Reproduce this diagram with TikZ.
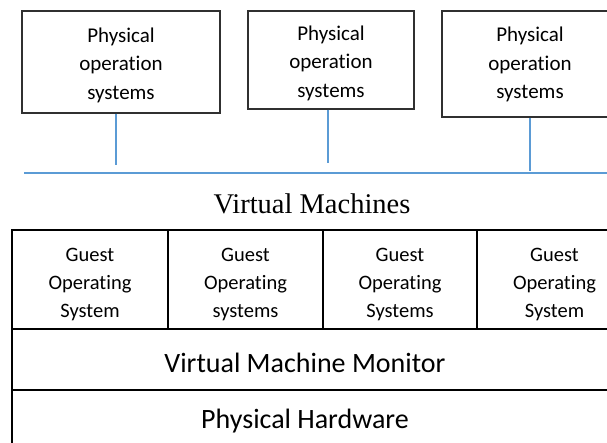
\documentclass[tikz,border=0pt]{standalone}
\usepackage{fontspec}
\newfontfamily\calfont[Ligatures=NoCommon]{Carlito}
\newfontfamily\timesfont{Liberation Serif}
\definecolor{lineblue}{HTML}{5B9BD5}
\definecolor{boxgray}{HTML}{303030}
\begin{document}
\begin{tikzpicture}[x=1pt,y=-1pt,
  topbox/.style={draw=boxgray, line width=1.2pt, inner sep=0pt},
  toptext/.style={align=center, inner sep=0pt, font=\calfont\fontsize{21}{28.5}\selectfont},
  guestbox/.style={draw=black, line width=2.2pt, inner sep=0pt, minimum height=99pt},
  guesttext/.style={align=center, inner sep=0pt, font=\calfont\fontsize{20.5}{28}\selectfont},
  layerbox/.style={draw=black, line width=2.2pt, inner sep=0pt, minimum width=620pt},
  layertext/.style={inner sep=0pt, font=\calfont\fontsize{28}{34}\selectfont},
  link/.style={draw=lineblue, line width=1.2pt}]
\useasboundingbox (0,0) rectangle (607,443);
\clip (0,0) rectangle (607,443);
% top boxes
\node[topbox, minimum width=198pt, minimum height=102pt] (p1) at (121,62) {};
\node[topbox, minimum width=166pt, minimum height=98pt] (p2) at (331,60) {};
\node[topbox, minimum width=176pt, minimum height=106pt] (p3) at (530,64) {};
\node[toptext] (p1t) at (121,65) {Physical\\operation\\systems};
\node[toptext] (p2t) at (331,63) {Physical\\operation\\systems};
\node[toptext] (p3t) at (530,64.5) {Physical\\operation\\systems};
% links
\coordinate (e1) at (116,165);
\coordinate (e2) at (328,163);
\coordinate (e3) at (530,171);
\coordinate (busL) at (24,173);
\coordinate (busR) at (620,173);
\draw[link] (e1 |- p1.south) -- (e1);
\draw[link] (e2 |- p2.south) -- (e2);
\draw[link] (e3 |- p3.south) -- (e3);
\draw[link] (busL) -- (busR);
% title
\node[inner sep=0pt, font=\timesfont\fontsize{28.5}{34}\selectfont] (vm) at (312,204) {Virtual Machines};
% guest row
\node[guestbox, minimum width=156pt] (g1) at (90,279.5) {};
\node[guestbox, minimum width=155pt] (g2) at (245.5,279.5) {};
\node[guestbox, minimum width=154pt] (g3) at (400,279.5) {};
\node[guestbox, minimum width=155pt] (g4) at (554.5,279.5) {};
\node[guesttext] (g1t) at (90,284) {Guest\\Operating\\System};
\node[guesttext] (g2t) at (245.5,284) {Guest\\Operating\\systems};
\node[guesttext] (g3t) at (400,284) {Guest\\Operating\\Systems};
\node[guesttext] (g4t) at (554.5,284) {Guest\\Operating\\System};
% layers
\node[layerbox, minimum height=61pt] (vmm) at (322,359.5) {};
\node[layerbox, minimum height=70pt] (hw) at (322,425) {};
\node[layertext] (vmmt) at (305,363) {Virtual Machine Monitor};
\node[layertext] (hwt) at (305,421) {Physical Hardware};
\end{tikzpicture}
\end{document}
